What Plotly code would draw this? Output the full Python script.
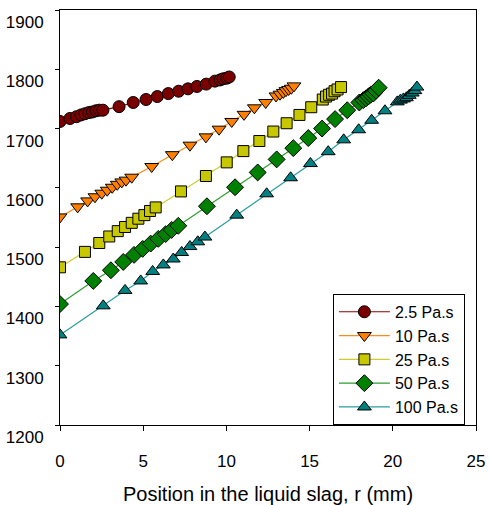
import plotly.graph_objects as go

# Position r (mm) and temperature values
x_25 = [0, 0.60, 0.99, 1.26, 1.50, 1.74, 1.95, 2.16, 2.37, 2.58, 3.55, 4.40, 5.17, 5.85, 6.51,
        7.13, 7.69, 8.23, 8.79, 9.31, 9.62, 9.81, 10.02, 10.17]
y_25 = [1712, 1717, 1720, 1723, 1725, 1727, 1728, 1730, 1731, 1731, 1737, 1744, 1749, 1754, 1759,
        1763, 1767, 1771, 1775, 1780, 1782, 1784, 1785, 1787]

x_10 = [0, 1.06, 1.66, 2.10, 2.51, 2.84, 3.14, 3.44, 3.71, 3.97, 4.31, 5.51, 6.75, 7.81, 8.77,
        9.56, 10.32, 11.06, 11.68, 12.36, 12.98, 13.22, 13.42, 13.58, 13.74, 13.90, 14.06]
y_10 = [1551, 1568, 1578, 1585, 1591, 1596, 1601, 1606, 1610, 1613, 1618, 1636, 1656, 1672, 1686,
        1699, 1712, 1724, 1735, 1744, 1755, 1758, 1761, 1764, 1766, 1768, 1772]

x_25b = [0, 1.50, 2.36, 2.96, 3.47, 3.91, 4.31, 4.71, 5.07, 5.41, 5.75, 7.27, 8.77, 10.02, 11.02,
         11.98, 12.82, 13.62, 14.39, 15.10, 15.79, 15.99, 16.17, 16.35, 16.50, 16.68, 16.89]
y_25b = [1466, 1492, 1507, 1518, 1527, 1534, 1541, 1548, 1554, 1561, 1567, 1594, 1620, 1643, 1662,
         1679, 1695, 1709, 1723, 1736, 1749, 1754, 1757, 1759, 1763, 1766, 1770]

x_50 = [0, 2.00, 3.06, 3.80, 4.45, 4.97, 5.45, 5.91, 6.35, 6.71, 7.11, 8.83, 10.52, 11.88, 13.02,
        14.02, 14.92, 15.75, 16.53, 17.26, 17.99, 18.23, 18.39, 18.53, 18.67, 18.83, 18.99, 19.15]
y_50 = [1404, 1443, 1461, 1475, 1487, 1497, 1506, 1514, 1522, 1529, 1536, 1569, 1601, 1626, 1648,
        1667, 1684, 1700, 1716, 1731, 1744, 1748, 1751, 1754, 1757, 1759, 1764, 1769]

x_100 = [0, 2.60, 3.91, 4.85, 5.57, 6.21, 6.81, 7.31, 7.81, 8.28, 8.71, 10.62, 12.42, 13.86, 15.05,
         16.12, 17.05, 17.95, 18.73, 19.53, 20.27, 20.46, 20.64, 20.82, 20.99, 21.17, 21.33, 21.45]
y_100 = [1352, 1401, 1427, 1443, 1459, 1470, 1480, 1491, 1501, 1509, 1517, 1554, 1590, 1617, 1641,
         1661, 1681, 1698, 1714, 1730, 1745, 1748, 1750, 1752, 1756, 1760, 1764, 1770]

series = [
    ("2.5 Pa.s", x_25, y_25, "circle", "#7a0000", "#8b0000", 12),
    ("10 Pa.s", x_10, y_10, "triangle-down", "#ff8000", "#ff8c1a", 12),
    ("25 Pa.s", x_25b, y_25b, "square", "#c8c800", "#cccc33", 11),
    ("50 Pa.s", x_50, y_50, "diamond", "#008000", "#2e9e2e", 13),
    ("100 Pa.s", x_100, y_100, "triangle-up", "#008080", "#2a9d9d", 12),
]

x_ticks = [0, 5, 10, 15, 20, 25]
y_ticks = [1200, 1300, 1400, 1500, 1600, 1700, 1800, 1900]

FONT = "Arial, 'Liberation Sans', sans-serif"

fig = go.Figure()
for name, xs, ys, sym, mcol, lcol, size in series:
    fig.add_trace(go.Scatter(
        x=xs, y=ys, name=name, mode="lines+markers",
        line=dict(color=lcol, width=1.2),
        marker=dict(symbol=sym, size=size, color=mcol, line=dict(color="black", width=1)),
    ))

fig.update_layout(
    width=489, height=505,
    margin=dict(l=60, r=13, t=10, b=80, autoexpand=False),
    paper_bgcolor="white", plot_bgcolor="white",
    font=dict(family=FONT, size=17, color="black"),
    showlegend=True,
    legend=dict(
        x=0.656, y=0.316, xanchor="left", yanchor="top",
        bordercolor="black", borderwidth=1, bgcolor="white",
        font=dict(size=16), tracegroupgap=0, itemwidth=51,
    ),
)
fig.update_xaxes(
    range=[0, 25], tickvals=x_ticks, ticktext=[str(v) for v in x_ticks],
    showgrid=False, zeroline=False,
    showline=True, linecolor="black", linewidth=1, mirror=True,
    ticks="outside", ticklen=5, tickcolor="black",
    ticklabelstandoff=16,
    title=dict(text="Position in the liquid slag, r (mm)", standoff=20, font=dict(size=20)),
)
fig.update_yaxes(
    range=[1200, 1900], tickvals=y_ticks, ticktext=[str(v) for v in y_ticks],
    showgrid=False, zeroline=False,
    showline=True, linecolor="black", linewidth=1, mirror=True,
    ticks="outside", ticklen=4, tickcolor="black",
    ticklabelstandoff=8, ticklabelshift=12,
)

fig.write_html("out.html")
